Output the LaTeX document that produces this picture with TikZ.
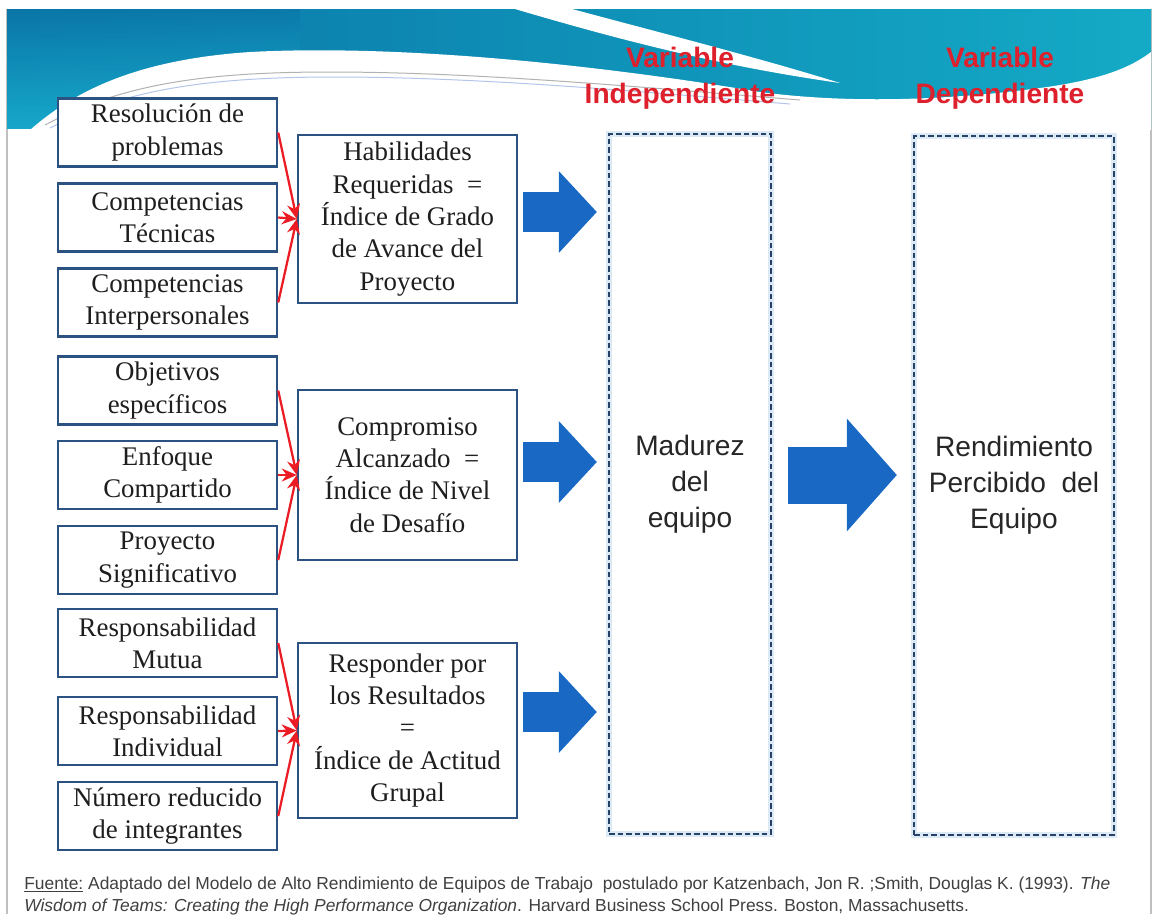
\documentclass[tikz,border=0pt]{standalone}
\usepackage{fontspec}
\setmainfont{Liberation Sans}
\newfontfamily\boxfont{Liberation Serif}
\usetikzlibrary{arrows.meta}
\definecolor{boxblue}{RGB}{44,82,130}
\definecolor{dashblue}{RGB}{38,66,105}
\definecolor{glowblue}{RGB}{220,234,246}
\definecolor{arrowblue}{RGB}{24,104,196}
\definecolor{linkred}{RGB}{236,28,36}
\definecolor{headred}{RGB}{222,32,44}
\definecolor{txtgray}{RGB}{30,30,30}
\definecolor{waveleft}{RGB}{10,118,168}
\definecolor{waveright}{RGB}{20,170,198}
\definecolor{wavelow}{RGB}{28,188,216}

\begin{document}
\begin{tikzpicture}[x=0.02cm,y=-0.02cm,
    factorbox/.style={draw=boxblue, line width=0.05cm, fill=white, minimum width=4.38cm, minimum height=1.36cm,
        align=center, inner sep=0pt, text=txtgray, font=\boxfont\fontsize{15.3}{18.4}\selectfont},
    indexbox/.style={factorbox, minimum height=#1},
    varbox/.style={draw=dashblue, line width=0.05cm, dash pattern=on 0.11cm off 0.06cm,
        preaction={draw=glowblue, line width=0.12cm, solid}, align=center, inner sep=0pt,
        text=black!85, font=\fontsize{16}{20.4}\selectfont},
    headtext/.style={text=headred, align=center, inner sep=0pt, font=\fontsize{16}{20.4}\selectfont\bfseries},
    redlink/.style={draw=linkred, line width=0.045cm, -{Stealth[length=0.3cm, width=0.26cm]}},
    flowarrow/.style={draw=arrowblue, line width=0.8cm, -{Triangle[length=0.76cm, width=1.64cm, line width=0pt]}},
    bigarrow/.style={draw=arrowblue, line width=1.14cm, -{Triangle[length=1cm, width=2.26cm, line width=0pt]}},
    sourcetext/.style={text=black!75, inner sep=0pt, anchor=base west, font=\fontsize{9.9}{11}\selectfont}]

    \useasboundingbox (0,0) rectangle (1153,914);
    \fill[white] (0,0) rectangle (1153,914);
    \draw[black!25, line width=0.03cm] (7,9) -- (7,914);
    \draw[black!25, line width=0.03cm] (1151,9) -- (1151,914);

    \shade[left color=waveleft, right color=waveright] (7,9) rectangle (1151,128);
    \shade[top color=waveleft, bottom color=wavelow, opacity=0.7] (7,9) rectangle (300,128);
    \fill[white] (515,9) .. controls (620,40) and (720,66) .. (840,83)
        .. controls (760,58) and (650,30) .. (572,9) -- cycle;
    \fill[white] (7,130) -- (30,130) .. controls (70,95) and (130,60) .. (250,52)
        .. controls (400,44) and (600,65) .. (760,92) .. controls (850,104) and (950,100) .. (1040,88)
        .. controls (1100,80) and (1130,68) .. (1151,52) -- (1151,130) -- cycle;
    \draw[black!30, line width=0.02cm] (45,125) .. controls (120,85) and (200,72) .. (330,72)
        .. controls (480,72) and (650,88) .. (800,100);
    \draw[cyan!50!blue!30, line width=0.02cm] (50,128) .. controls (125,90) and (205,77) .. (335,77)
        .. controls (485,77) and (655,93) .. (790,104);

    \node[headtext] (hind) at (680,78) {Variable\\Independiente};
    \node[headtext] (hdep) at (1000,78) {Variable\\Dependiente};

    \node[factorbox] (resol) at (167.5,132.5) {Resolución de\\problemas};
    \node[factorbox] (tecn) at (167.5,217.5) {Competencias\\Técnicas};
    \node[factorbox] (inter) at (167.5,302.5) {Competencias\\Interpersonales};
    \node[factorbox] (obj) at (167.5,390.5) {Objetivos\\específicos};
    \node[factorbox] (enf) at (167.5,475) {Enfoque\\Compartido};
    \node[factorbox] (proy) at (167.5,560) {Proyecto\\Significativo};
    \node[factorbox] (mutua) at (167.5,643) {Responsabilidad\\Mutua};
    \node[factorbox] (indiv) at (167.5,731) {Responsabilidad\\Individual};
    \node[factorbox] (numero) at (167.5,816) {Número reducido\\de integrantes};

    \node[indexbox=3.36cm] (habil) at (407.5,219) {Habilidades\\Requeridas\ \ =\\Índice de Grado\\de Avance del\\Proyecto};
    \node[indexbox=3.4cm] (compr) at (407.5,475) {Compromiso\\Alcanzado\ \ =\\Índice de Nivel\\de Desafío};
    \node[indexbox=3.5cm] (respon) at (407.5,730.5) {Responder por\\los Resultados\\=\\Índice de Actitud\\Grupal};

    \node[varbox, minimum width=3.24cm, minimum height=14cm] (madurez) at (690,484) {Madurez\\del\\equipo};
    \node[varbox, minimum width=4cm, minimum height=13.98cm] (rend) at (1014,485.5) {Rendimiento\\Percibido\ \ del\\Equipo};

    \foreach \f in {resol,tecn,inter}
        \draw[redlink] (\f.east) -- (habil.west);
    \foreach \f in {obj,enf,proy}
        \draw[redlink] (\f.east) -- (compr.west);
    \foreach \f in {mutua,indiv,numero}
        \draw[redlink] (\f.east) -- (respon.west);

    \draw[flowarrow, shorten <=0.1cm, shorten >=0.22cm] (habil.east |- 0,212) -- (madurez.west |- 0,212);
    \draw[flowarrow, shorten <=0.1cm, shorten >=0.22cm] (compr.east |- 0,462) -- (madurez.west |- 0,462);
    \draw[flowarrow, shorten <=0.1cm, shorten >=0.22cm] (respon.east |- 0,712) -- (madurez.west |- 0,712);
    \draw[bigarrow, shorten <=0.32cm, shorten >=0.32cm] (madurez.east |- 0,475) -- (rend.west |- 0,475);

    \node[sourcetext] (src1) at (24,889) {\underline{Fuente:} Adaptado del Modelo de Alto Rendimiento de Equipos de Trabajo\ \ postulado por Katzenbach, Jon R. ;Smith, Douglas K. (1993). \textit{The}};
    \node[sourcetext] (src2) at (24,911) {\textit{Wisdom of Teams: Creating the High Performance Organization}. Harvard Business School Press. Boston, Massachusetts.};
\end{tikzpicture}
\end{document}
